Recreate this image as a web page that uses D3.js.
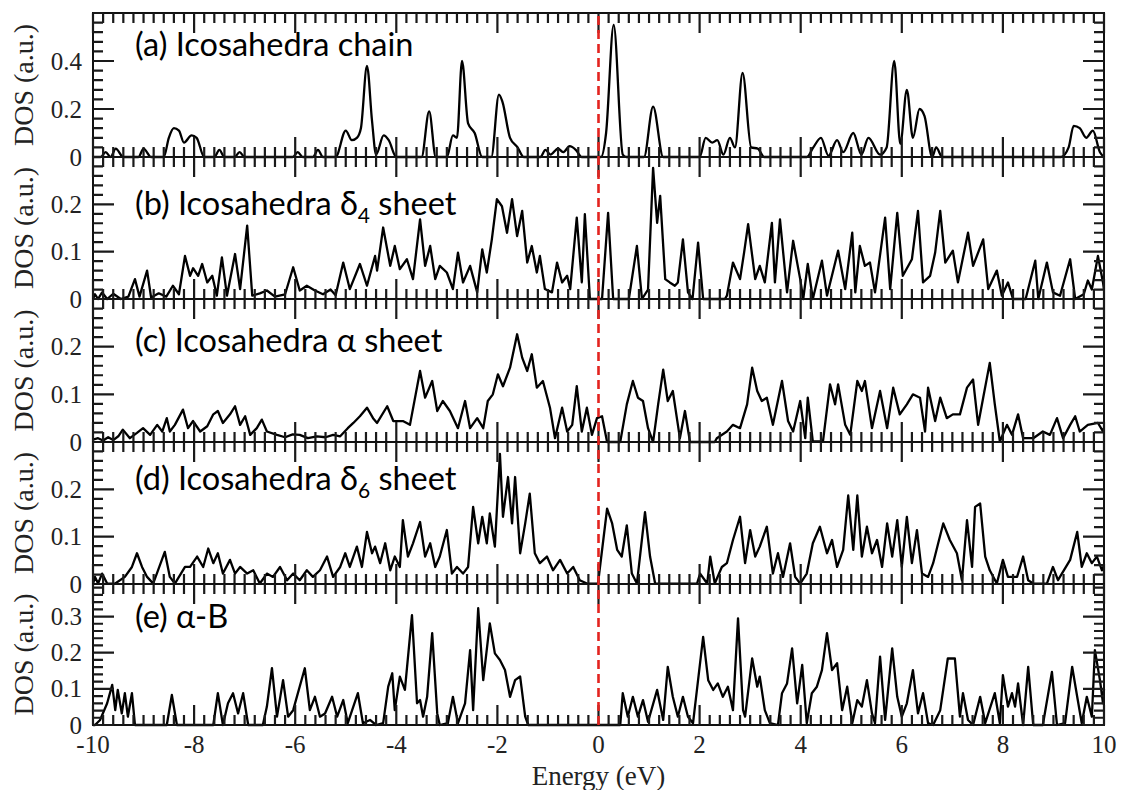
<!DOCTYPE html>
<html>
<head>
<meta charset="utf-8">
<script src="https://cdn.jsdelivr.net/npm/d3@7"></script>
<style>
  body { margin: 0; background: #fff; }
  svg { display: block; }
  .serif { font-family: "Liberation Serif", "Times New Roman", serif; fill: #222; }
  .title { font-family: Lato, "Open Sans", sans-serif; fill: #000; }
</style>
</head>
<body>
<svg id="chart" width="1121" height="790"></svg>
<script>
// DOS curves, [energy (eV), DOS (a.u.)]
const dosChain = [
  [-10, 0], [-9.85, 0], [-9.75, 0.02], [-9.65, 0], [-9.55, 0.035], [-9.4, 0], [-9.1, 0], [-9.0, 0.035],
  [-8.85, 0], [-8.6, 0], [-8.5, 0.08], [-8.4, 0.12], [-8.3, 0.11], [-8.2, 0.06], [-8.05, 0.09], [-7.95, 0.08],
  [-7.8, 0], [-7.6, 0], [-7.5, 0.03], [-7.4, 0], [-7.2, 0], [-7.1, 0.02], [-7.0, 0], [-6.05, 0], [-5.95, 0.02],
  [-5.85, 0], [-5.65, 0], [-5.55, 0.03], [-5.45, 0], [-5.2, 0], [-5.0, 0.11], [-4.88, 0.07], [-4.78, 0.08],
  [-4.7, 0.12], [-4.58, 0.38], [-4.48, 0.15], [-4.4, 0.01], [-4.25, 0.09], [-4.15, 0.07], [-4.0, 0], [-3.5, 0],
  [-3.35, 0.19], [-3.22, 0], [-3.0, 0], [-2.88, 0.09], [-2.8, 0.08], [-2.7, 0.40], [-2.58, 0.14], [-2.45, 0.1],
  [-2.3, 0], [-2.12, 0], [-1.97, 0.26], [-1.9, 0.23], [-1.75, 0.08], [-1.6, 0.04], [-1.48, 0], [-1.15, 0],
  [-1.05, 0.03], [-0.95, 0.01], [-0.8, 0.035], [-0.7, 0.02], [-0.57, 0.045], [-0.45, 0.03], [-0.33, 0],
  [0.05, 0], [0.15, 0.1], [0.3, 0.55], [0.48, 0.01], [0.55, 0], [0.9, 0], [1.08, 0.21], [1.28, 0], [2.0, 0],
  [2.12, 0.08], [2.25, 0.06], [2.35, 0.07], [2.47, 0.01], [2.6, 0.08], [2.7, 0.04], [2.85, 0.35], [3.02, 0.04],
  [3.15, 0.035], [3.28, 0], [4.12, 0], [4.25, 0.04], [4.4, 0.08], [4.55, 0.005], [4.72, 0.07], [4.84, 0.02],
  [5.04, 0.1], [5.2, 0.01], [5.34, 0.08], [5.57, 0.01], [5.7, 0.04], [5.85, 0.40], [5.97, 0.055], [6.1, 0.28],
  [6.22, 0.08], [6.35, 0.2], [6.45, 0.17], [6.6, 0], [6.68, 0.04], [6.8, 0], [9.15, 0], [9.3, 0.04],
  [9.4, 0.13], [9.52, 0.12], [9.65, 0.08], [9.78, 0.11], [9.92, 0.02], [10, 0]
];

const dosDelta4 = [
  [-10, 0], [-9.96, 0.01], [-9.9, 0], [-9.82, 0.014], [-9.72, 0], [-9.6, 0.011], [-9.45, 0], [-9.3, 0.005],
  [-9.17, 0.042], [-9.08, 0.005], [-8.93, 0.06], [-8.85, 0.003], [-8.7, 0.012], [-8.55, 0.005], [-8.42, 0.028],
  [-8.3, 0.01], [-8.18, 0.091], [-8.08, 0.049], [-8.02, 0.065], [-7.92, 0.049], [-7.84, 0.074], [-7.74, 0.035],
  [-7.64, 0.049], [-7.55, 0.007], [-7.45, 0.088], [-7.35, 0.007], [-7.19, 0.095], [-7.09, 0.021], [-6.95, 0.155],
  [-6.85, 0.007], [-6.7, 0.012], [-6.56, 0.018], [-6.4, 0.005], [-6.2, 0.01], [-6.04, 0.067], [-5.91, 0.018],
  [-5.77, 0.028], [-5.61, 0.018], [-5.45, 0.01], [-5.3, 0.02], [-5.2, 0.008], [-5.05, 0.077], [-4.92, 0.021],
  [-4.72, 0.074], [-4.58, 0.028], [-4.42, 0.091], [-4.38, 0.06], [-4.26, 0.151], [-4.12, 0.07], [-4.03, 0.112],
  [-3.93, 0.063], [-3.79, 0.084], [-3.67, 0.042], [-3.53, 0.168], [-3.43, 0.07], [-3.33, 0.112], [-3.23, 0.042],
  [-3.14, 0.07], [-3.0, 0.056], [-2.88, 0.021], [-2.78, 0.098], [-2.68, 0.035], [-2.54, 0.07], [-2.4, 0.014],
  [-2.3, 0.105], [-2.21, 0.056], [-2.11, 0.126], [-2.01, 0.211], [-1.91, 0.196], [-1.81, 0.14], [-1.71, 0.211],
  [-1.61, 0.133], [-1.51, 0.186], [-1.41, 0.077], [-1.32, 0.112], [-1.22, 0.056], [-1.16, 0.091], [-1.06, 0.021],
  [-0.92, 0.014], [-0.82, 0.077], [-0.72, 0.035], [-0.62, 0.049], [-0.56, 0.021], [-0.43, 0.172], [-0.33, 0.035],
  [-0.27, 0.179], [-0.17, 0], [0.07, 0], [0.19, 0.182], [0.29, 0], [0.6, 0], [0.76, 0.112], [0.86, 0],
  [0.98, 0.02], [1.08, 0.277], [1.16, 0.161], [1.22, 0.218], [1.32, 0.042], [1.41, 0.035], [1.51, 0.028],
  [1.57, 0.035], [1.67, 0.126], [1.77, 0.014], [1.86, 0], [1.97, 0.119], [2.07, 0], [2.5, 0], [2.54, 0.007],
  [2.66, 0.077], [2.8, 0.042], [2.88, 0.098], [2.96, 0.158], [3.1, 0.042], [3.19, 0.07], [3.29, 0.035],
  [3.43, 0.161], [3.49, 0.035], [3.59, 0.168], [3.73, 0.014], [3.85, 0.123], [3.99, 0.042], [4.05, 0],
  [4.14, 0.074], [4.24, 0], [4.42, 0.081], [4.52, 0.007], [4.74, 0.102], [4.88, 0.021], [5.02, 0.14],
  [5.08, 0.014], [5.17, 0.112], [5.27, 0.07], [5.37, 0.077], [5.47, 0.014], [5.67, 0.172], [5.77, 0.021],
  [5.91, 0.182], [6.02, 0.049], [6.2, 0.084], [6.32, 0.186], [6.42, 0.035], [6.56, 0.049], [6.66, 0.098],
  [6.76, 0.186], [6.86, 0.077], [7.01, 0.102], [7.11, 0.035], [7.31, 0.14], [7.41, 0.07], [7.61, 0.126],
  [7.71, 0.021], [7.88, 0.06], [7.98, 0.007], [8.1, 0.035], [8.2, 0], [8.45, 0], [8.64, 0.081], [8.7, 0],
  [8.87, 0.077], [8.99, 0.014], [9.13, 0.007], [9.33, 0.084], [9.43, 0], [9.6, 0.01], [9.68, 0.039],
  [9.76, 0.02], [9.88, 0.091], [9.98, 0.035], [10, 0.02]
];

const dosAlpha = [
  [-10, 0.005], [-9.9, 0.008], [-9.8, 0.003], [-9.7, 0.01], [-9.6, 0.004], [-9.5, 0.012], [-9.41, 0.026],
  [-9.27, 0.008], [-9.13, 0.019], [-9.01, 0.029], [-8.87, 0.015], [-8.73, 0.036], [-8.63, 0.022], [-8.54, 0.05],
  [-8.48, 0.022], [-8.38, 0.036], [-8.22, 0.068], [-8.12, 0.029], [-8.02, 0.044], [-7.88, 0.022], [-7.74, 0.033],
  [-7.62, 0.058], [-7.53, 0.065], [-7.43, 0.04], [-7.29, 0.058], [-7.19, 0.075], [-7.09, 0.036], [-6.99, 0.054],
  [-6.89, 0.015], [-6.76, 0.029], [-6.66, 0.047], [-6.56, 0.022], [-6.36, 0.015], [-6.2, 0.01], [-6.05, 0.016],
  [-5.91, 0.015], [-5.75, 0.008], [-5.57, 0.012], [-5.4, 0.01], [-5.25, 0.015], [-5.11, 0.012], [-4.96, 0.029],
  [-4.85, 0.04], [-4.72, 0.054], [-4.58, 0.072], [-4.46, 0.05], [-4.38, 0.04], [-4.18, 0.075], [-4.06, 0.044],
  [-3.87, 0.044], [-3.73, 0.036], [-3.53, 0.149], [-3.43, 0.093], [-3.29, 0.128], [-3.19, 0.065], [-3.08, 0.086],
  [-2.94, 0.065], [-2.78, 0.029], [-2.64, 0.086], [-2.54, 0.029], [-2.4, 0.05], [-2.28, 0.029], [-2.19, 0.086],
  [-2.09, 0.1], [-1.99, 0.142], [-1.89, 0.117], [-1.75, 0.156], [-1.61, 0.226], [-1.51, 0.177], [-1.41, 0.149],
  [-1.32, 0.184], [-1.22, 0.114], [-1.1, 0.128], [-0.96, 0.072], [-0.86, 0.008], [-0.72, 0.072], [-0.62, 0.022],
  [-0.52, 0.036], [-0.43, 0.117], [-0.33, 0.022], [-0.23, 0.072], [-0.13, 0.015], [-0.03, 0.05], [0.07, 0.054],
  [0.17, 0], [0.43, 0], [0.56, 0.079], [0.68, 0.128], [0.78, 0.093], [0.88, 0.086], [0.98, 0.029], [1.08, 0],
  [1.18, 0.079], [1.28, 0.152], [1.37, 0.086], [1.47, 0.107], [1.61, 0.008], [1.71, 0.065], [1.81, 0], [2.3, 0],
  [2.34, 0.008], [2.54, 0.022], [2.66, 0.036], [2.8, 0.029], [2.94, 0.079], [3.04, 0.156], [3.14, 0.107],
  [3.23, 0.086], [3.33, 0.093], [3.45, 0.036], [3.63, 0.128], [3.75, 0.044], [3.85, 0.022], [3.99, 0.086],
  [4.09, 0.008], [4.14, 0.093], [4.24, 0.001], [4.44, 0.001], [4.58, 0.121], [4.68, 0.079], [4.74, 0.121],
  [4.88, 0.036], [4.98, 0.015], [5.12, 0.128], [5.21, 0.107], [5.27, 0.128], [5.41, 0.029], [5.57, 0.107],
  [5.71, 0.029], [5.83, 0.114], [5.96, 0.058], [6.1, 0.079], [6.22, 0.1], [6.36, 0.093], [6.46, 0.022],
  [6.52, 0.114], [6.66, 0.044], [6.76, 0.093], [6.89, 0.05], [7.01, 0.058], [7.15, 0.058], [7.29, 0.114],
  [7.41, 0.131], [7.51, 0.036], [7.61, 0.093], [7.74, 0.166], [7.84, 0.079], [7.94, 0.001], [8.08, 0.036],
  [8.18, 0.015], [8.3, 0.058], [8.4, 0.008], [8.6, 0.008], [8.79, 0.022], [8.93, 0.015], [9.07, 0.05],
  [9.19, 0.008], [9.33, 0.036], [9.43, 0.054], [9.52, 0.022], [9.68, 0.036], [9.88, 0.04], [9.98, 0.022], [10, 0.03]
];

const dosDelta6 = [
  [-10, 0], [-9.96, 0.015], [-9.9, 0.001], [-9.82, 0.022], [-9.72, 0.001], [-9.56, 0.001], [-9.37, 0.015],
  [-9.23, 0.036], [-9.13, 0.065], [-9.03, 0.036], [-8.93, 0.015], [-8.81, 0.001], [-8.58, 0.068], [-8.48, 0.015],
  [-8.38, 0.001], [-8.18, 0.036], [-8.08, 0.036], [-7.94, 0.058], [-7.82, 0.036], [-7.72, 0.075], [-7.62, 0.044],
  [-7.53, 0.065], [-7.43, 0.022], [-7.29, 0.051], [-7.19, 0.022], [-7.09, 0.036], [-6.95, 0.022], [-6.83, 0.029],
  [-6.7, 0.001], [-6.56, 0.022], [-6.44, 0.015], [-6.3, 0.036], [-6.16, 0.008], [-6.04, 0.022], [-5.91, 0.008],
  [-5.77, 0.029], [-5.65, 0.015], [-5.51, 0.029], [-5.37, 0.058], [-5.25, 0.015], [-5.11, 0.036], [-5.01, 0.065],
  [-4.92, 0.036], [-4.78, 0.079], [-4.68, 0.036], [-4.58, 0.11], [-4.48, 0.065], [-4.42, 0.079], [-4.32, 0.044],
  [-4.22, 0.086], [-4.12, 0.029], [-4.03, 0.058], [-3.93, 0.036], [-3.87, 0.135], [-3.77, 0.058], [-3.67, 0.086],
  [-3.53, 0.131], [-3.43, 0.058], [-3.33, 0.086], [-3.23, 0.036], [-3.14, 0.058], [-3.0, 0.114], [-2.9, 0.022],
  [-2.8, 0.036], [-2.68, 0.022], [-2.58, 0.036], [-2.48, 0.163], [-2.38, 0.086], [-2.3, 0.142], [-2.21, 0.086],
  [-2.15, 0.149], [-2.05, 0.079], [-1.95, 0.275], [-1.89, 0.142], [-1.79, 0.226], [-1.71, 0.128], [-1.65, 0.226],
  [-1.55, 0.065], [-1.45, 0.128], [-1.36, 0.191], [-1.26, 0.065], [-1.16, 0.044], [-1.02, 0.058], [-0.9, 0.029],
  [-0.76, 0.051], [-0.62, 0.022], [-0.5, 0.036], [-0.37, 0.008], [-0.23, 0.001], [-0.01, 0.001], [0.17, 0.159],
  [0.27, 0.128], [0.37, 0.072], [0.46, 0.058], [0.56, 0.124], [0.66, 0.022], [0.76, 0.001], [0.92, 0.152],
  [1.02, 0.058], [1.12, 0.001], [1.95, 0.001], [2.01, 0.022], [2.15, 0.001], [2.21, 0.058], [2.3, 0.001],
  [2.44, 0.036], [2.54, 0.044], [2.66, 0.093], [2.8, 0.142], [2.9, 0.044], [3.0, 0.114], [3.1, 0.058],
  [3.19, 0.079], [3.33, 0.121], [3.45, 0.022], [3.55, 0.065], [3.65, 0.015], [3.79, 0.086], [3.89, 0.015],
  [3.99, 0.001], [4.12, 0.022], [4.24, 0.086], [4.38, 0.121], [4.52, 0.065], [4.62, 0.093], [4.72, 0.036],
  [4.84, 0.072], [4.94, 0.187], [5.04, 0.072], [5.12, 0.187], [5.21, 0.058], [5.31, 0.121], [5.41, 0.065],
  [5.51, 0.093], [5.61, 0.036], [5.71, 0.128], [5.81, 0.058], [5.91, 0.135], [6.0, 0.036], [6.1, 0.142],
  [6.2, 0.044], [6.3, 0.114], [6.4, 0.022], [6.52, 0.015], [6.62, 0.044], [6.72, 0.086], [6.82, 0.128],
  [6.95, 0.093], [7.09, 0.065], [7.19, 0.008], [7.29, 0.135], [7.39, 0.036], [7.45, 0.163], [7.55, 0.17],
  [7.65, 0.058], [7.74, 0.029], [7.88, 0.001], [8.0, 0.051], [8.1, 0.015], [8.28, 0.015], [8.4, 0.058],
  [8.5, 0.008], [8.6, 0.001], [8.87, 0.001], [8.99, 0.036], [9.09, 0.008], [9.33, 0.051], [9.47, 0.11],
  [9.56, 0.036], [9.66, 0.065], [9.76, 0.044], [9.86, 0.058], [9.96, 0.029], [10, 0.04]
];

const dosAlphaB = [
  [-10, 0], [-9.96, 0], [-9.86, 0.014], [-9.72, 0.06], [-9.62, 0.111], [-9.56, 0.041], [-9.51, 0.097],
  [-9.43, 0.032], [-9.37, 0.088], [-9.31, 0.023], [-9.23, 0.088], [-9.17, 0], [-8.54, 0], [-8.44, 0.083],
  [-8.34, 0], [-7.62, 0], [-7.53, 0.088], [-7.43, 0], [-7.33, 0.06], [-7.23, 0.088], [-7.13, 0.032],
  [-7.03, 0.088], [-6.93, 0], [-6.64, 0], [-6.56, 0.051], [-6.46, 0.157], [-6.36, 0.023], [-6.24, 0.124],
  [-6.14, 0.023], [-6.04, 0.041], [-5.81, 0.157], [-5.71, 0.041], [-5.61, 0.078], [-5.51, 0.023], [-5.41, 0.032],
  [-5.27, 0.078], [-5.17, 0.023], [-5.05, 0.069], [-4.96, 0.005], [-4.76, 0.088], [-4.66, 0.005], [-4.52, 0.014],
  [-4.4, 0], [-4.26, 0.005], [-4.16, 0.106], [-4.08, 0.143], [-4.03, 0.041], [-3.93, 0.134], [-3.83, 0.097],
  [-3.69, 0.304], [-3.59, 0.06], [-3.53, 0.069], [-3.47, 0.023], [-3.39, 0.078], [-3.29, 0.254], [-3.19, 0.032],
  [-3.14, 0], [-2.98, 0.005], [-2.88, 0.078], [-2.78, 0.005], [-2.64, 0.06], [-2.54, 0.207], [-2.48, 0.041],
  [-2.38, 0.323], [-2.28, 0.124], [-2.15, 0.281], [-2.05, 0.198], [-1.95, 0.18], [-1.85, 0.152], [-1.75, 0.078],
  [-1.65, 0.124], [-1.55, 0.134], [-1.45, 0.023], [-1.39, 0], [0.43, 0], [0.48, 0.088], [0.58, 0.023],
  [0.68, 0.078], [0.78, 0.023], [0.88, 0.069], [0.98, 0.009], [1.16, 0.097], [1.28, 0.014], [1.37, 0.161],
  [1.47, 0.078], [1.57, 0.023], [1.67, 0.078], [1.77, 0.023], [1.87, 0.005], [2.07, 0.244], [2.17, 0.124],
  [2.27, 0.097], [2.36, 0.115], [2.46, 0.078], [2.56, 0.106], [2.66, 0.041], [2.76, 0.295], [2.86, 0.041],
  [2.9, 0.023], [3.04, 0.184], [3.14, 0.106], [3.19, 0.134], [3.29, 0.041], [3.39, 0.005], [3.55, 0],
  [3.63, 0.088], [3.73, 0.115], [3.83, 0.212], [3.93, 0.06], [4.03, 0.166], [4.12, 0.005], [4.22, 0.088],
  [4.32, 0.106], [4.42, 0.152], [4.52, 0.254], [4.62, 0.152], [4.72, 0.171], [4.82, 0.041], [4.92, 0.106],
  [5.02, 0.005], [5.12, 0.069], [5.21, 0.051], [5.31, 0.124], [5.41, 0.032], [5.47, 0.005], [5.57, 0.189],
  [5.67, 0.014], [5.81, 0.212], [5.91, 0.078], [6.0, 0.023], [6.1, 0.06], [6.22, 0.152], [6.32, 0.032],
  [6.42, 0.088], [6.52, 0.005], [6.62, 0], [6.76, 0.041], [6.91, 0.184], [7.05, 0.184], [7.15, 0.023],
  [7.21, 0.088], [7.31, 0.014], [7.41, 0], [7.55, 0.078], [7.65, 0.005], [7.84, 0.088], [7.94, 0.005],
  [8.0, 0.138], [8.1, 0.051], [8.18, 0.088], [8.24, 0.051], [8.3, 0.115], [8.4, 0], [8.5, 0.161], [8.6, 0],
  [8.79, 0], [8.97, 0.147], [9.07, 0], [9.23, 0.005], [9.37, 0.161], [9.47, 0.078], [9.56, 0.005],
  [9.66, 0.078], [9.76, 0.023], [9.82, 0.207], [9.92, 0.124], [9.98, 0.06], [10, 0.1]
];

const energyTicks = [-10, -8, -6, -4, -2, 0, 2, 4, 6, 8, 10];
const titleMain = ["(a) Icosahedra chain", "(b) Icosahedra \u03b4", "(c) Icosahedra \u03b1 sheet", "(d) Icosahedra \u03b4", "(e) \u03b1-B"];
const titleSub = ["", "4", "", "6", ""];
const titleTail = ["", " sheet", "", " sheet", ""];
const yMaxes = [0.6, 0.3, 0.3, 0.3, 0.39];
const yTickLabels = [[0, 0.2, 0.4], [0, 0.1, 0.2], [0, 0.1, 0.2], [0, 0.1, 0.2], [0, 0.1, 0.2, 0.3]];
const yMinorStep = [0.04, 0.02, 0.02, 0.02, 0.02];

const series = [dosChain, dosDelta4, dosAlpha, dosDelta6, dosAlphaB];

// layout
const left = 93, right = 1104;
const edges = [13, 157, 299, 442, 584, 725];
const titleBase = [56, 215, 352, 490, 628];
const majorLen = 20, minorLen = 10;

const svg = d3.select('#chart');
const x = d3.scaleLinear().domain([-10, 10]).range([left, right]);
const xMinor = d3.range(-100, 101, 2).map(v => v / 10);
const fmt = d => String(+d.toFixed(2));

series.forEach((data, i) => {
  const top = edges[i], bottom = edges[i + 1];
  const y = d3.scaleLinear().domain([0, yMaxes[i]]).range([bottom, top]);
  const yMinor = d3.range(0, Math.floor(yMaxes[i] / yMinorStep[i] + 1e-6) + 1).map(k => k * yMinorStep[i]);
  const yMajor = yTickLabels[i];
  const p = svg.append('g');

  // data line
  p.append('path')
    .datum(data)
    .attr('fill', 'none')
    .attr('stroke', '#000')
    .attr('stroke-width', 2.3)
    .attr('stroke-linejoin', 'round')
    .attr('d', d3.line()
      .x(d => x(d[0]))
      .y(d => y(d[1]))
      .curve(i === 0 ? d3.curveMonotoneX : d3.curveLinear));

  // frame
  p.append('rect')
    .attr('x', left).attr('y', top)
    .attr('width', right - left).attr('height', bottom - top)
    .attr('fill', 'none').attr('stroke', '#111').attr('stroke-width', 2);

  // inward ticks on all four sides, one path
  const tk = d3.path();
  xMinor.forEach(v => {
    const len = energyTicks.includes(v) ? majorLen : minorLen;
    tk.moveTo(x(v), bottom); tk.lineTo(x(v), bottom - len);
    tk.moveTo(x(v), top); tk.lineTo(x(v), top + len);
  });
  yMinor.forEach(v => {
    tk.moveTo(left, y(v)); tk.lineTo(left + minorLen, y(v));
    tk.moveTo(right, y(v)); tk.lineTo(right - minorLen, y(v));
  });
  yMajor.forEach(v => {
    tk.moveTo(left, y(v)); tk.lineTo(left + majorLen + 1, y(v));
    tk.moveTo(right, y(v)); tk.lineTo(right - majorLen - 1, y(v));
  });
  p.append('path')
    .attr('d', tk.toString())
    .attr('fill', 'none')
    .attr('stroke', '#1a1a1a')
    .attr('stroke-width', 2.2);

  // y tick labels
  p.selectAll(null).data(yMajor).enter().append('text')
    .attr('class', 'serif')
    .attr('x', left - 11)
    .attr('y', d => y(d))
    .attr('dy', '0.34em')
    .attr('text-anchor', 'end')
    .style('font-size', '25px')
    .text(fmt);

  // y title
  p.append('text')
    .attr('class', 'serif')
    .attr('transform', `translate(33,${(top + bottom) / 2}) rotate(-90)`)
    .attr('text-anchor', 'middle')
    .style('font-size', '28px')
    .text('DOS (a.u.)');

  // panel title
  const t = p.append('text')
    .attr('class', 'title')
    .attr('x', 135).attr('y', titleBase[i])
    .style('font-size', '32.5px');
  t.append('tspan').text(titleMain[i]);
  if (titleSub[i]) {
    t.append('tspan').attr('dy', 8).style('font-size', '21px').text(titleSub[i]);
    t.append('tspan').attr('dy', -8).text(titleTail[i]);
  }
});

// x tick labels under the last panel
svg.selectAll(null).data(energyTicks).enter().append('text')
  .attr('class', 'serif')
  .attr('x', d => x(d))
  .attr('y', 753)
  .attr('text-anchor', 'middle')
  .style('font-size', '25px')
  .text(fmt);

// Fermi level
svg.append('line')
  .attr('x1', x(0)).attr('x2', x(0))
  .attr('y1', edges[0] + 3).attr('y2', edges[5])
  .attr('stroke', '#e3231f')
  .attr('stroke-width', 2.6)
  .attr('stroke-dasharray', '9,5');

// x title
svg.append('text')
  .attr('class', 'serif')
  .attr('x', x(0)).attr('y', 785)
  .attr('text-anchor', 'middle')
  .style('font-size', '27px')
  .text('Energy (eV)');
</script>
</body>
</html>
